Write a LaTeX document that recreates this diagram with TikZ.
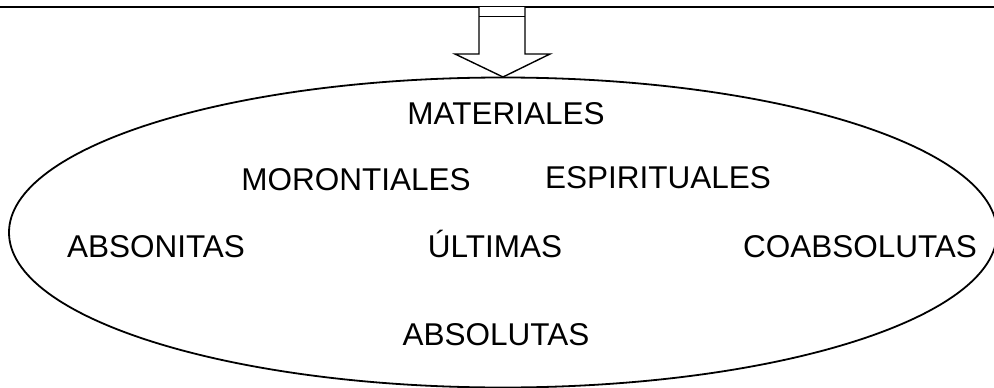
\documentclass[tikz,border=0pt]{standalone}
\usepackage{fontspec}
\setmainfont{Liberation Sans}
\begin{document}
\begin{tikzpicture}[x=1pt,y=-1pt,
  lbl/.style={font=\fontsize{31.5}{36}\selectfont, inner sep=0pt, anchor=base},
  ln/.style={line width=1.8pt}]
\useasboundingbox (0,0) rectangle (994,388);
\begin{scope}
\clip (0,0) rectangle (994,388);
\draw[ln] (503,232.5) ellipse [x radius=494, y radius=155];
\end{scope}
\coordinate (L) at (0,7);
\coordinate (R) at (994,7);
\draw[ln] (L) -- (R);
\draw[line width=1.4pt, fill=white] (479,7) -- (479,54) -- (455,54) -- (503,77) -- (550,54) -- (525,54) -- (525,7);
\draw[line width=1.4pt] (479,16.5) -- (525,16.5);
\node[lbl] (mat) at (506,124) {MATERIALES};
\node[lbl] (mor) at (356,190) {MORONTIALES};
\node[lbl] (esp) at (658,188) {ESPIRITUALES};
\node[lbl] (abn) at (156,257) {ABSONITAS};
\node[lbl] (ult) at (495,257) {ÚLTIMAS};
\node[lbl] (coa) at (860,257) {COABSOLUTAS};
\node[lbl] (abs) at (496,345) {ABSOLUTAS};
\end{tikzpicture}
\end{document}
